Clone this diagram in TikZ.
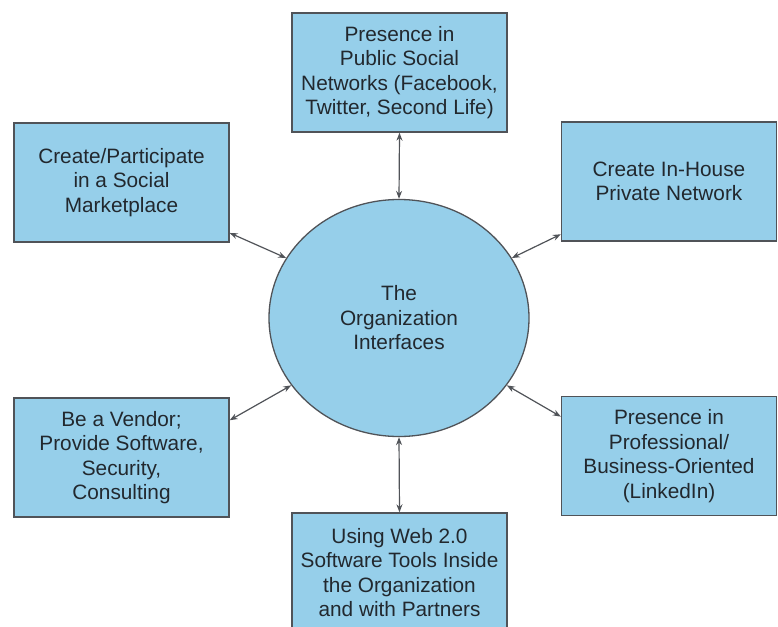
\documentclass[tikz,border=0pt]{standalone}
\usepackage{fontspec}
\setmainfont{Liberation Sans}
\usetikzlibrary{arrows.meta, shapes.geometric}

\definecolor{boxblue}{RGB}{150,207,234}
\definecolor{edgegray}{RGB}{80,83,88}
\definecolor{textgray}{RGB}{34,40,46}

\begin{document}
\begin{tikzpicture}[
    x=1pt, y=-1pt,
    every node/.style={text=textgray, font=\fontsize{20.8}{24.5}\selectfont, align=center},
    box/.style={rectangle, draw=edgegray, line width=1.3pt, fill=boxblue,
                minimum width=215pt, minimum height=119pt, inner sep=2pt},
    hub/.style={ellipse, draw=edgegray, line width=1.3pt, fill=boxblue,
                minimum width=260pt, minimum height=237pt},
    conn/.style={edgegray, line width=1.2pt, {Stealth[length=8pt,width=6pt]}-{Stealth[length=8pt,width=6pt]}}
]
\useasboundingbox (0,0) rectangle (778,626);

% -------- Layout --------
\def\xleft{121.5}
\def\xmid{399.5}
\def\xright{669}

% -------- Centre --------
\node[hub] (org) at (399,318) {The\\Organization\\Interfaces};

% -------- Boxes --------
\node[box] (pub)  at (\xmid,72.5)    {Presence in\\Public Social\\Networks (Facebook,\\Twitter, Second Life)};
\node[box] (mkt)  at (\xleft,182.5)  {Create/Participate\\in a Social\\Marketplace};
\node[box] (priv) at (\xright,181.5) {Create In-House\\Private Network};
\node[box] (vend) at (\xleft,457.5)  {Be a Vendor;\\Provide Software,\\Security,\\Consulting};
\node[box] (prof) at (\xright,456)   {Presence in\\Professional/\\Business-Oriented\\(LinkedIn)};
\node[box] (web)  at (\xmid,572.5)   {Using Web 2.0\\Software Tools Inside\\the Organization\\and with Partners};

% -------- Connectors --------
\draw[conn] (pub.south) -- (org.north);
\draw[conn] (org.south) -- (web.north);
\draw[conn] (mkt.-25)   -- (org.152);
\draw[conn] (priv.206)  -- (org.28);
\draw[conn] (vend.19)   -- (org.212);
\draw[conn] (prof.160)  -- (org.328);

\end{tikzpicture}
\end{document}
